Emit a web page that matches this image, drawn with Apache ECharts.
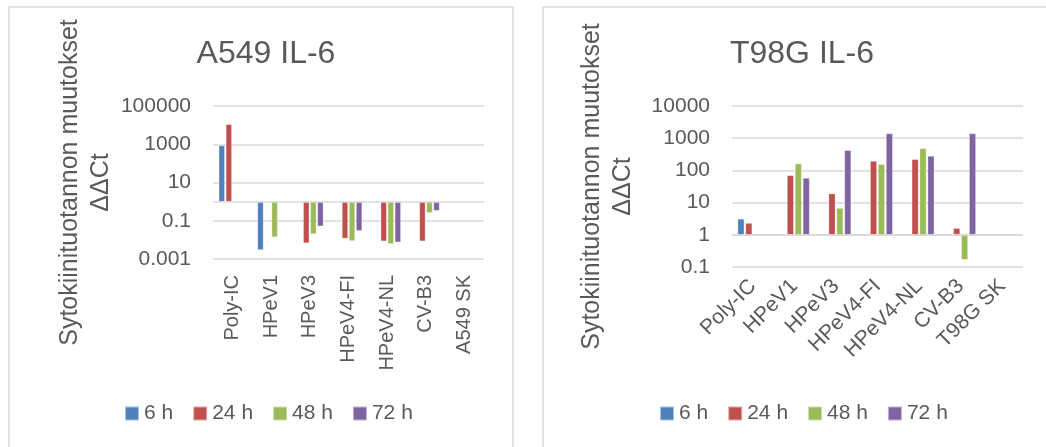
<!DOCTYPE html>
<html>
<head>
<meta charset="utf-8">
<script src="https://cdn.jsdelivr.net/npm/echarts@6/dist/echarts.min.js"></script>
<style>
  html, body { margin: 0; padding: 0; background: #fff; }
  #chart { width: 1046px; height: 447px; }
</style>
</head>
<body>
<div id="chart"></div>
<script>
// sytokiinituotannon muutokset, IL-6
const categoriesA549 = ['Poly-IC', 'HPeV1', 'HPeV3', 'HPeV4-FI', 'HPeV4-NL', 'CV-B3', 'A549 SK'];
const categoriesT98G = ['Poly-IC', 'HPeV1', 'HPeV3', 'HPeV4-FI', 'HPeV4-NL', 'CV-B3', 'T98G SK'];
const seriesNames = ['6 h', '24 h', '48 h', '72 h'];
const colors = ['#4F81BD', '#C0504D', '#9BBB59', '#8064A2'];

const a549_6h = [850, 0.003, null, null, null, null, null];
const a549_24h = [11000, null, 0.0068, 0.012, 0.0086, 0.0086, null];
const a549_48h = [null, 0.014, 0.02, 0.0089, 0.0062, 0.26, null];
const a549_72h = [null, null, 0.052, 0.03, 0.0076, 0.34, null];

const t98g_6h = [3.1, null, null, null, null, null, null];
const t98g_24h = [2.3, 70, 19, 195, 220, 1.6, null];
const t98g_48h = [null, 162, 6.7, 155, 480, 0.17, null];
const t98g_72h = [null, 58, 420, 1400, 280, 1400, null];

const a549Data = [a549_6h, a549_24h, a549_48h, a549_72h];
const t98gData = [t98g_6h, t98g_24h, t98g_48h, t98g_72h];

const font = 'Liberation Sans';
const textColor = '#595959';
const gridColor = '#d9d9d9';

const chart = echarts.init(document.getElementById('chart'));

function yAxisFor(gridIndex, min, max, interval) {
  return {
    type: 'log',
    logBase: 10,
    gridIndex: gridIndex,
    min: min,
    max: max,
    interval: interval,
    name: 'Sytokiinituotannon muutokset\nΔΔCt',
    nameLocation: 'middle',
    nameRotate: 90,
    nameGap: 93,
    nameTextStyle: { fontFamily: font, fontSize: 25, color: textColor, lineHeight: 31 },
    axisLine: { show: false },
    axisTick: { show: false },
    axisLabel: {
      fontFamily: font, fontSize: 21, color: textColor, margin: 22,
      formatter: v => String(+v.toPrecision(6))
    },
    splitLine: { lineStyle: { color: gridColor, width: 1.5 } }
  };
}

function xAxisFor(gridIndex, cats, rotate, margin, size) {
  return {
    type: 'category',
    gridIndex: gridIndex,
    data: cats,
    axisLine: { show: false },
    axisTick: { show: false },
    axisLabel: {
      fontFamily: font, fontSize: size, color: textColor, rotate: rotate, margin: margin,
      interval: 0
    }
  };
}

function makeSeries(data, axisIndex, catGap) {
  return data.map((values, i) => ({
    name: seriesNames[i],
    type: 'bar',
    xAxisIndex: axisIndex,
    yAxisIndex: axisIndex,
    data: values,
    barGap: '20%',
    barCategoryGap: catGap,
    itemStyle: { color: colors[i], borderColor: 'rgba(255,255,255,0.5)', borderWidth: 0.5 },
    markLine: i === 0 ? {
      silent: true,
      symbol: 'none',
      label: { show: false },
      lineStyle: { color: gridColor, width: 1.5, type: 'solid' },
      data: [{ yAxis: 1 }]
    } : undefined
  }));
}

const legendBase = {
  data: seriesNames,
  padding: 0,
  itemWidth: 14,
  itemHeight: 14,
  itemGap: 19,
  icon: 'rect',
  textStyle: { fontFamily: font, fontSize: 21, color: textColor }
};

chart.setOption({
  animation: false,
  color: colors,
  graphic: [
    { type: 'rect', shape: { x: 9, y: 7, width: 504, height: 460 },
      style: { fill: 'none', stroke: gridColor, lineWidth: 1.5 }, silent: true },
    { type: 'rect', shape: { x: 543, y: 7, width: 520, height: 460 },
      style: { fill: 'none', stroke: gridColor, lineWidth: 1.5 }, silent: true }
  ],
  title: [
    { text: 'A549 IL-6', left: 261, top: 33, textAlign: 'center',
      textStyle: { fontFamily: font, fontSize: 32, fontWeight: 'normal', color: textColor } },
    { text: 'T98G IL-6', left: 797, top: 33, textAlign: 'center',
      textStyle: { fontFamily: font, fontSize: 32, fontWeight: 'normal', color: textColor } }
  ],
  legend: [
    Object.assign({ left: 124, top: 403 }, legendBase),
    Object.assign({ left: 659, top: 403 }, legendBase)
  ],
  grid: [
    { left: 213, top: 106, width: 271, height: 153 },
    { left: 732, top: 106, width: 291, height: 161 }
  ],
  xAxis: [
    xAxisFor(0, categoriesA549, 90, 16, 20),
    xAxisFor(1, categoriesT98G, 45, 16, 21)
  ],
  yAxis: [
    yAxisFor(0, 0.001, 100000, 2),
    yAxisFor(1, 0.1, 10000, 1)
  ],
  series: [
    ...makeSeries(a549Data, 0, '30%'),
    ...makeSeries(t98gData, 1, '27%')
  ]
});
</script>
</body>
</html>
